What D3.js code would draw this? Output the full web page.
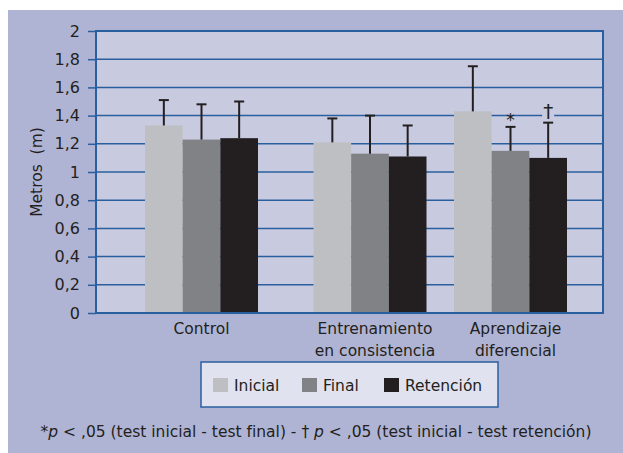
<!DOCTYPE html>
<html lang="es">
<head>
<meta charset="UTF-8">
<title>Metros por grupo</title>
<style>
  body { margin: 0; background: #fff; }
  svg text { font-family: "DejaVu Sans", "Liberation Sans", sans-serif; fill: #231f20; }
</style>
</head>
<body>
<div id="chart"></div>
<script src="https://d3js.org/d3.v7.min.js"></script>
<script>
// categories (x labels split in lines)
const groups = ["Control", "Entrenamiento en consistencia", "Aprendizaje diferencial"];
const groupLines = [["Control"], ["Entrenamiento", "en consistencia"], ["Aprendizaje", "diferencial"]];
const series = ["Inicial", "Final", "Retención"];

// means and error bar length, per series, in group order
const inicial = [1.33, 1.21, 1.43];
const final = [1.23, 1.13, 1.15];
const retencion = [1.24, 1.11, 1.10];
const inicialSd = [0.18, 0.17, 0.32];
const finalSd = [0.25, 0.27, 0.17];
const retencionSd = [0.26, 0.22, 0.25];

// significance marks: [group, series, symbol]
const marks = [["Aprendizaje diferencial", "Final", "*"], ["Aprendizaje diferencial", "Retención", "†"]];

const yTicks = [0, 0.2, 0.4, 0.6, 0.8, 1, 1.2, 1.4, 1.6, 1.8, 2];

const colors = { "Inicial": "#bebfc3", "Final": "#818285", "Retención": "#231f20" };
const values = { "Inicial": inicial, "Final": final, "Retención": retencion };
const sds = { "Inicial": inicialSd, "Final": finalSd, "Retención": retencionSd };

const W = 623, H = 453;
const plot = { left: 96, right: 603, top: 31, bottom: 313 };
const fs = "15.5px";

const svg = d3.select("#chart").append("svg")
    .attr("width", W).attr("height", H);

// outer panel
svg.append("rect")
    .attr("x", 8).attr("y", 10).attr("width", W - 8).attr("height", H - 10)
    .attr("fill", "#b0b4d4");

// plot background
svg.append("rect")
    .attr("x", plot.left).attr("y", plot.top)
    .attr("width", plot.right - plot.left).attr("height", plot.bottom - plot.top)
    .attr("fill", "#c8cae0");

const y = d3.scaleLinear().domain([0, 2]).range([plot.bottom, plot.top]);

// group centres are not evenly spaced in the original
const x0 = d3.scaleOrdinal().domain(groups).range([201.5, 370, 510.5]);
const x1 = d3.scaleBand().domain(series).range([-56.5, 56.5]);

const fmt = d => d3.format(".1f")(d).replace(".", ",").replace(",0", "");

// ticks
const yAxis = svg.append("g")
    .attr("transform", `translate(${plot.left},0)`)
    .call(d3.axisLeft(y).tickValues(yTicks).tickFormat(fmt)
        .tickSize(8).tickPadding(8));
yAxis.select(".domain").remove();
yAxis.selectAll(".tick line").attr("stroke", "#2a5f9f").attr("stroke-width", 1.5);
yAxis.selectAll(".tick text")
    .style("font-size", "16px").attr("fill", "#231f20");

// gridlines
svg.append("g")
    .selectAll("line")
    .data(yTicks)
    .join("line")
    .attr("x1", plot.left).attr("x2", plot.right)
    .attr("y1", d => y(d)).attr("y2", d => y(d))
    .attr("stroke", "#2a5f9f").attr("stroke-width", 1.5);

// y title
svg.append("text")
    .attr("transform", `translate(42,172) rotate(-90)`)
    .attr("text-anchor", "middle")
    .style("font-size", "15.5px")
    .attr("xml:space", "preserve")
    .text("Metros  (m)");

// bars
const rows = [];
groups.forEach((g, i) => series.forEach(s => rows.push({ g, s, v: values[s][i], sd: sds[s][i] })));

svg.append("g")
    .selectAll("rect")
    .data(rows)
    .join("rect")
    .attr("x", d => x0(d.g) + x1(d.s))
    .attr("y", d => y(d.v))
    .attr("width", x1.bandwidth())
    .attr("height", d => y(0) - y(d.v))
    .attr("fill", d => colors[d.s]);

// error bars
const eb = svg.append("g").attr("stroke", "#231f20").attr("stroke-width", 2);
const cx = d => x0(d.g) + x1(d.s) + x1.bandwidth() / 2;
eb.selectAll(".v").data(rows).join("line").attr("class", "v")
    .attr("x1", cx).attr("x2", cx)
    .attr("y1", d => y(d.v)).attr("y2", d => y(d.v + d.sd));
eb.selectAll(".c").data(rows).join("line").attr("class", "c")
    .attr("x1", d => cx(d) - 5).attr("x2", d => cx(d) + 5)
    .attr("y1", d => y(d.v + d.sd)).attr("y2", d => y(d.v + d.sd));

// significance marks
marks.forEach(([g, s, sym]) => {
    const i = groups.indexOf(g);
    const top = y(values[s][i] + sds[s][i]);
    const px = x0(g) + x1(s) + x1.bandwidth() / 2;
    if (sym === "†") {
        svg.append("rect").attr("x", px - 6).attr("y", top - 24)
            .attr("width", 12).attr("height", 20).attr("fill", "#c8cae0");
    }
    svg.append("text")
        .attr("x", px).attr("y", sym === "*" ? top - 1 : top - 5)
        .attr("text-anchor", "middle")
        .style("font-size", sym === "*" ? "17px" : "20px")
        .attr("fill", "#444")
        .text(sym);
});

// plot frame
svg.append("rect")
    .attr("x", plot.left).attr("y", plot.top)
    .attr("width", plot.right - plot.left).attr("height", plot.bottom - plot.top)
    .attr("fill", "none").attr("stroke", "#2a5f9f").attr("stroke-width", 2);

// x labels
svg.append("g")
    .selectAll("text")
    .data(groups)
    .join("text")
    .attr("x", d => x0(d) + (d === groups[0] ? 0 : 5))
    .attr("y", 334)
    .attr("text-anchor", "middle")
    .style("font-size", fs)
    .selectAll("tspan")
    .data((d, i) => groupLines[i])
    .join("tspan")
    .attr("x", function () { return this.parentNode.getAttribute("x"); })
    .attr("dy", (d, j) => j === 0 ? 0 : 22)
    .text(d => d);

// legend
const lg = svg.append("g");
lg.append("rect")
    .attr("x", 201).attr("y", 362).attr("width", 297).attr("height", 45)
    .attr("fill", "#e0e2ef").attr("stroke", "#2a5f9f").attr("stroke-width", 1.5);
const legendX = d3.scaleOrdinal().domain(series).range([213, 302, 384]);
const item = lg.selectAll(".item").data(series).join("g")
    .attr("transform", d => `translate(${legendX(d)},378)`);
item.append("rect").attr("width", 15).attr("height", 14).attr("fill", d => colors[d]);
item.append("text").attr("x", 21).attr("y", 13)
    .style("font-size", fs).text(d => d);

// footnote
const fn = svg.append("text")
    .attr("x", 316).attr("y", 437)
    .attr("text-anchor", "middle")
    .style("font-size", fs);
fn.append("tspan").text("*");
fn.append("tspan").style("font-style", "italic").text("p");
fn.append("tspan").text(" < ,05 (test inicial - test final) - † ");
fn.append("tspan").style("font-style", "italic").text("p");
fn.append("tspan").text(" < ,05 (test inicial - test retención)");
</script>
</body>
</html>
